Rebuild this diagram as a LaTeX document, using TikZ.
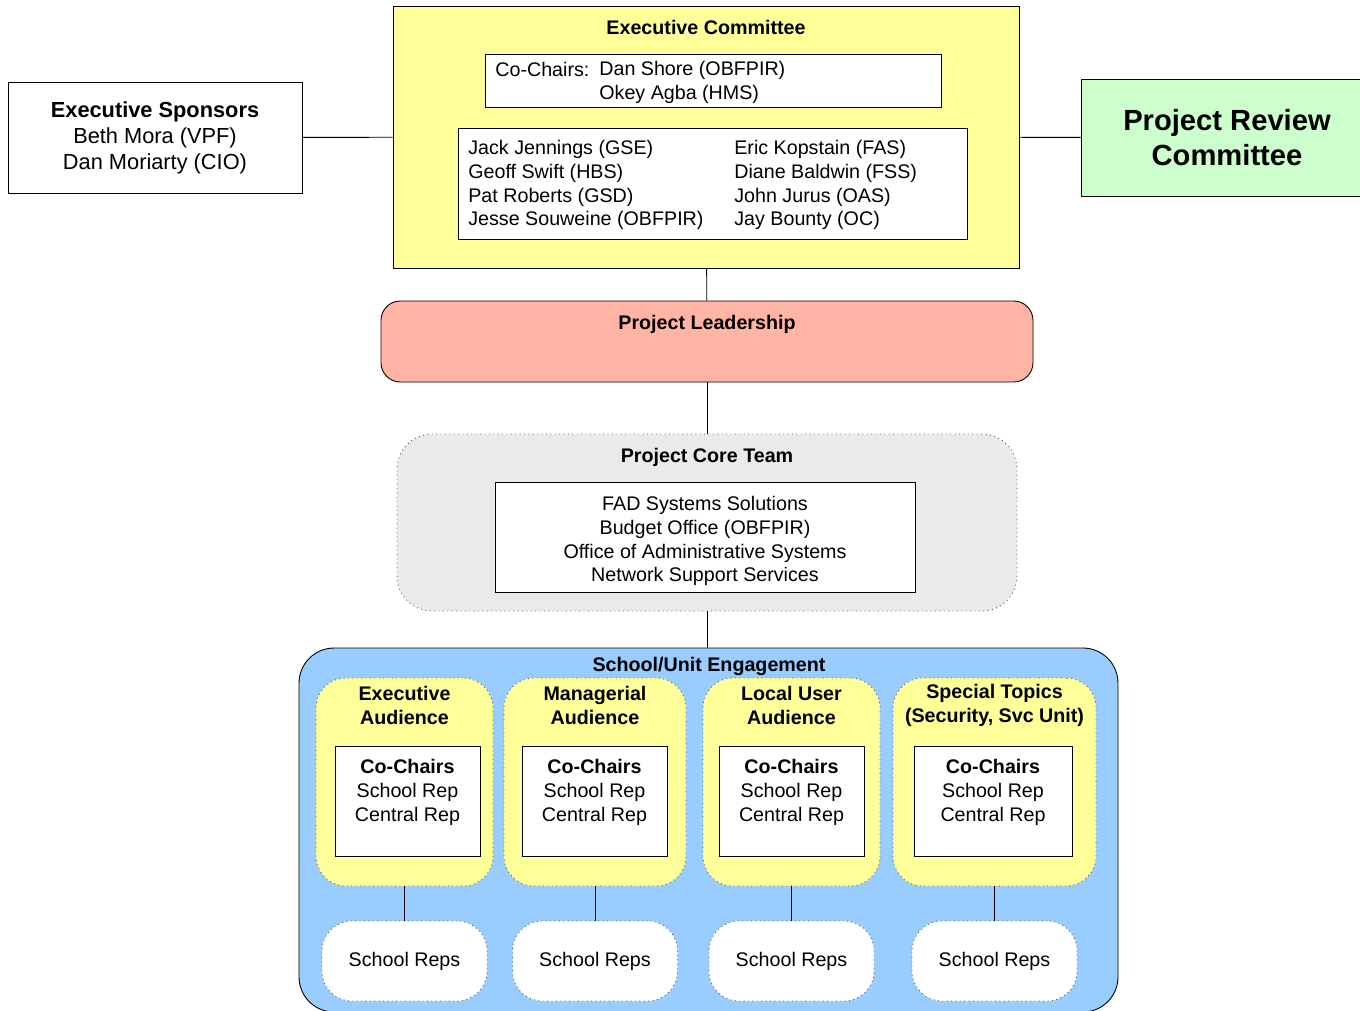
\documentclass[tikz,border=0pt]{standalone}
\usepackage{fontspec}
\setmainfont{Liberation Sans}
\usetikzlibrary{positioning}
\definecolor{execFill}{HTML}{FFFF99}
\definecolor{reviewFill}{HTML}{CCFFCC}
\definecolor{leadFill}{HTML}{FFB4A4}
\definecolor{coreFill}{HTML}{EAEAEA}
\definecolor{engFill}{HTML}{99CCFF}
\definecolor{dotLine}{HTML}{555555}

% one audience column: name, x, outer width, inner x, inner width, title
\newcommand{\audgroup}[6]{%
  \node[audience, minimum width=#3] (aud#1) at (#2,-15.64) {};
  \node[title] (audT#1) at (#2,-14.10) {#6};
  \node[chairbox, minimum width=#5] (chairs#1) at (#4,-16.02) {};
  \node[body] (chairsT#1) at (#4,-15.84) {\textbf{Co-Chairs}\\School Rep\\Central Rep};
  \node[repbox] (reps#1) at (#2,-19.22) {\raisebox{-2pt}{School Reps}};
  \draw[link] (aud#1) -- (reps#1);
}

\begin{document}
\begin{tikzpicture}[
  font=\fontsize{11.2}{13.6}\selectfont,
  box/.style={draw, line width=0.5pt, minimum width=#1},
  title/.style={font=\fontsize{11.2}{13.6}\selectfont\bfseries, align=center, inner sep=0pt},
  body/.style={align=center, inner sep=0pt},
  list/.style={align=left, anchor=west, inner sep=0pt},
  soft/.style={draw=dotLine, dotted, line width=0.5pt},
  audience/.style={soft, fill=execFill, rounded corners=17pt, minimum height=4.16cm},
  chairbox/.style={draw, fill=white, line width=0.5pt, minimum height=2.20cm},
  repbox/.style={soft, fill=white, rounded corners=17pt, minimum width=3.30cm,
    minimum height=1.60cm},
  link/.style={line width=0.5pt}
]
\useasboundingbox (0,0) rectangle (27.2,-20.2);

% =========================================================
% TOP ROW
% =========================================================

\node[box=5.88cm, minimum height=2.22cm, align=center,
  font=\fontsize{12.4}{14.8}\selectfont] (sponsors) at (3.10,-2.75)
{\textbf{Executive Sponsors}\\Beth Mora (VPF)\\Dan Moriarty (CIO)};

% Executive committee
\node[box=12.52cm, fill=execFill, minimum height=5.24cm] (exec) at (14.12,-2.74) {};
\node[title] (execT) at (14.12,-0.55) {Executive Committee};

\node[box=9.12cm, fill=white, minimum height=1.06cm] (cochairs) at (14.26,-1.61) {};
\node[list] (ccLabel) at (9.90,-1.38) {Co-Chairs:};
\node[list] (ccNames) at (11.98,-1.64) {Dan Shore (OBFPIR)\\Okey Agba (HMS)};

\node[box=10.18cm, fill=white, minimum height=2.22cm] (members) at (14.25,-3.67) {};
\node[list] (memLeft) at (9.36,-3.70)
{Jack Jennings (GSE)\\Geoff Swift (HBS)\\Pat Roberts (GSD)\\Jesse Souweine (OBFPIR)};
\node[list] (memRight) at (14.68,-3.70)
{Eric Kopstain (FAS)\\Diane Baldwin (FSS)\\John Jurus (OAS)\\Jay Bounty (OC)};

% Review committee
\node[box=5.84cm, fill=reviewFill, minimum height=2.34cm, align=center,
  font=\fontsize{16.6}{19.8}\selectfont\bfseries] (review) at (24.54,-2.75)
{Project Review\\Committee};

\draw[link] (sponsors) -- (exec);
\draw[link] (exec) -- (review);

% =========================================================
% LEADERSHIP AND CORE TEAM
% =========================================================

\node[box=13.04cm, fill=leadFill, rounded corners=11pt, minimum height=1.62cm] (lead)
  at (14.14,-6.83) {};
\node[title] (leadT) at (14.14,-6.48) {Project Leadership};

\node[soft, fill=coreFill, rounded corners=20pt, minimum width=12.40cm,
  minimum height=3.54cm] (core) at (14.14,-10.45) {};
\node[title] (coreT) at (14.14,-9.14) {Project Core Team};
\node[chairbox, minimum width=8.40cm] (coreIn) at (14.10,-10.74) {};
\node[body] (coreList) at (14.10,-10.82)
{FAD Systems Solutions\\Budget Office (OBFPIR)\\Office of Administrative Systems\\Network Support Services};

\draw[link] (exec) -- (lead);
\draw[link] (lead) -- (core);

% =========================================================
% SCHOOL/UNIT ENGAGEMENT
% =========================================================

\node[box=16.38cm, fill=engFill, rounded corners=20pt, minimum height=7.28cm] (eng)
  at (14.17,-16.60) {};
\node[title] (engT) at (14.18,-13.32) {School/Unit Engagement};

\draw[link] (core.south) -- (core.south |- eng.north);

\audgroup{1}{8.09}{3.54cm}{8.15}{2.90cm}{Executive\\Audience}
\audgroup{2}{11.90}{3.64cm}{11.89}{2.90cm}{Managerial\\Audience}
\audgroup{3}{15.83}{3.54cm}{15.83}{2.90cm}{Local User\\Audience}
\audgroup{4}{19.89}{4.06cm}{19.86}{3.16cm}{Special Topics\\(Security, Svc Unit)}

\end{tikzpicture}
\end{document}
